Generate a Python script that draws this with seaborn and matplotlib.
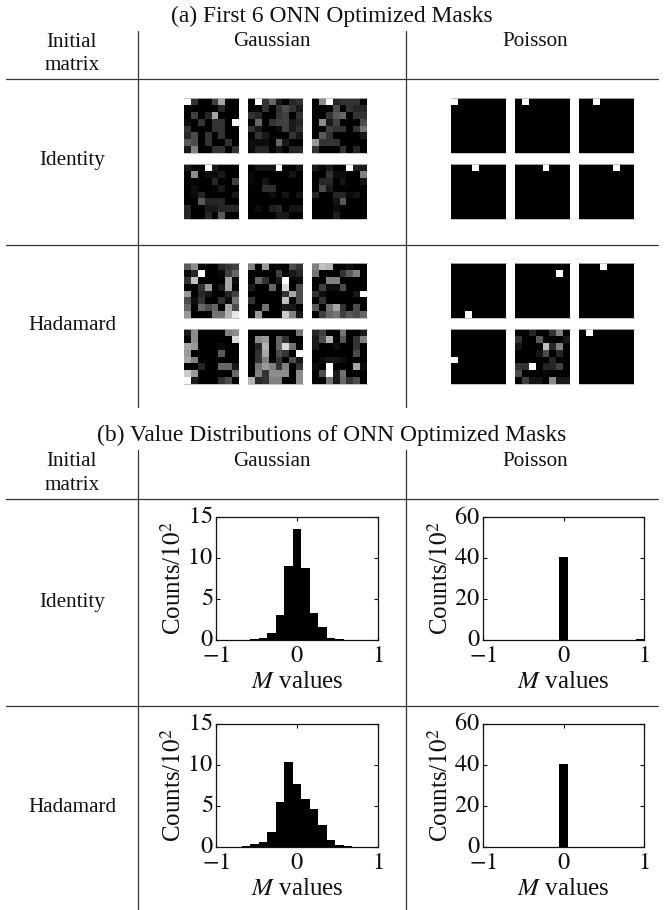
"""ONN optimized masks and their value distributions"""
import matplotlib
matplotlib.use("Agg")
import matplotlib.pyplot as plt
from matplotlib.transforms import ScaledTranslation
import numpy as np
import seaborn as sns

sns.set_theme(style="ticks")
plt.rcParams["font.family"] = ["Liberation Serif", "DejaVu Serif"]
plt.rcParams["mathtext.fontset"] = "stix"

W, H = 664, 910

gauss_identity = [
    [[1, .2, 0, 0, .25, .65, 0, 0], [0, 0, 0, 0, 0, .15, 0, 0], [0, .25, 0, .15, .65, 0, 0, 0],
     [.05, 0, .2, 0, .2, .2, 0, .95], [.2, 0, 0, 0, .2, .2, 0, 0], [.15, .3, 0, .2, 0, .2, 0, 0],
     [.35, .3, 0, .2, 0, 0, .2, 0], [.1, .5, 0, 0, .2, .2, 0, .2]],
    [[0, 1, .2, .4, .1, 0, .15, .2], [0, 0, .2, 0, .2, .3, .2, .1], [.2, .15, 0, 0, .2, .25, 0, .2],
     [0, .4, 0, .2, .25, .25, .1, .15], [.2, .1, 0, 0, .05, .25, .1, .2], [0, .2, .1, 0, 0, 0, .2, .1],
     [.05, .05, .05, 0, .4, .1, 0, 0], [.05, .15, .15, 0, .1, 0, .15, .15]],
    [[0, .55, 1, .15, .2, .2, .2, 0], [0, 0, 0, .3, 0, .2, .15, .15], [0, 0, .2, .35, .4, 0, .2, .2],
     [0, .55, .1, .25, 0, 0, 0, .3], [0, 0, .25, .2, .2, 0, .2, .45], [0, .35, .2, 0, 0, 0, 0, .1],
     [.6, .2, .2, .2, 0, 0, 0, 0], [.2, 0, 0, 0, .2, 0, .15, 0]],
    [[.1, 0, 0, 1, .1, 0, 0, 0], [0, .55, 0, .05, .05, .1, 0, 0], [0, 0, 0, 0, .15, 0, 0, .25],
     [0, .05, 0, 0, .03, .1, 0, 0], [0, .05, .15, 0, 0, 0, 0, .1], [0, 0, .35, .15, .15, .15, 0, 0],
     [.15, 0, 0, .1, .1, .15, .15, .15], [.15, 0, 0, .15, 0, .35, 0, 0]],
    [[0, .08, .08, .08, 1, 0, 0, .08], [.03, 0, 0, 0, 0, 0, .08, 0], [.03, 0, .08, 0, 0, 0, 0, 0],
     [0, 0, .18, .18, 0, 0, 0, 0], [0, 0, 0, .05, 0, .08, 0, .08], [0, 0, 0, 0, 0, 0, 0, 0],
     [0, .05, 0, .12, .15, 0, .08, .08], [0, 0, 0, 0, .1, .1, 0, 0]],
    [[.1, .03, .1, 0, 0, 1, .12, .1], [0, 0, .2, .05, .05, 0, 0, .5], [0, .15, .15, 0, .08, 0, 0, .08],
     [0, .3, .1, 0, 0, 0, 0, 0], [.15, 0, 0, .15, .15, .05, .08, 0], [0, 0, 0, .08, .35, 0, 0, 0],
     [0, 0, 0, .05, 0, 0, 0, 0], [0, 0, 0, .12, 0, 0, 0, 0]],
]
gauss_hadamard = [
    [[.35, .55, 0, 0, 0, .15, .2, .25], [.05, .15, 1, 0, 0, .03, .25, .4], [.2, .75, 0, 0, 0, 0, .65, .05],
     [0, 0, .2, .6, 0, .1, .65, 0], [.6, 0, .15, .1, 0, 0, .15, .25], [.3, .05, .2, 0, 0, .2, .05, .45],
     [.4, 0, .4, .3, .4, 0, .65, .3], [.6, 0, 0, 0, .45, .45, .7, .9]],
    [[.5, 0, .6, 0, 0, 0, .3, .2], [0, 0, 0, 0, .25, 0, .1, .15], [0, .4, .2, 0, .1, 1, 0, .05],
     [.1, 0, 0, .4, 0, .85, 0, .3], [0, 0, 0, 0, 0, .2, .65, .3], [.2, 0, 0, 0, 0, .75, 0, .3],
     [0, 0, .45, 0, 0, .1, .1, 0], [0, .6, 0, 0, 0, .8, .5, .1]],
    [[.5, .75, .7, 0, 0, .05, 0, 0], [.45, 0, 0, 0, .2, .35, .5, 0], [0, 0, .5, .5, 0, 0, 0, 0],
     [0, .25, .05, .05, .3, 0, 0, 0], [.2, .05, 0, 0, 0, 0, .1, 1], [0, .2, 0, 0, 0, 0, 0, 0],
     [.35, 0, .45, .65, .2, 0, .3, 0], [0, .25, .4, .45, .25, .35, .3, .4]],
    [[.1, .55, 0, 0, 0, 0, .5, .55], [0, .55, 0, 0, 0, 0, 0, .85], [.65, .6, 0, 0, 0, .05, 0, 0],
     [.6, 0, 0, 0, 0, .35, 0, 0], [.65, .5, 0, 0, 0, 0, 0, 0], [0, 0, .15, 0, 0, .4, .4, .1],
     [.8, .6, 0, 0, 0, 0, 0, .4], [1, .1, 0, 0, 0, .2, .3, 0]],
    [[0, 0, 0, 0, 0, 0, 0, .45], [0, .55, .6, 0, .4, .2, 0, 0], [0, .15, .7, 0, .4, .85, .45, 0],
     [0, .2, .65, 0, .3, .2, 0, 1], [0, .2, .5, 0, .2, 0, .3, .1], [0, .45, .6, .5, .2, .5, 0, .2],
     [0, .5, .2, .55, .55, .55, 0, .55], [.7, .15, .2, .5, .5, 0, 0, .55]],
    [[.15, .25, 0, 0, .45, 0, 0, .1], [.1, .3, .7, 0, .35, 0, .2, .5], [.1, 0, 0, .05, 0, 0, .2, 0],
     [0, 0, 0, 0, 0, 0, .3, 0], [0, .05, .1, .1, .05, 0, 0, 0], [.05, 0, 1, 0, 0, 0, .65, .05],
     [0, .3, 1, .1, .45, 0, 0, 0], [0, 0, .45, .1, .4, .2, .3, 0]],
]
zero_row = [0, 0, 0, 0, 0, 0, 0, 0]


def one_hot(row, col):
    m = [list(zero_row) for _ in range(8)]
    m[row][col] = 1
    return m


poisson_identity = [one_hot(0, 0), one_hot(0, 1), one_hot(0, 2), one_hot(0, 3), one_hot(0, 4), one_hot(0, 5)]
poisson_hadamard = [
    one_hot(7, 2), one_hot(1, 6), one_hot(0, 3), one_hot(4, 0),
    [[0, 0, .15, 0, 0, .2, .5, 0], [.2, 0, 0, .35, 0, 0, 0, .1], [.08, 0, 0, 0, .75, .15, .5, 0],
     [0, 0, 0, .08, .3, 0, .15, 0], [0, 0, 0, 0, 0, .15, 0, 0], [.2, .2, 1, 0, .15, .15, .25, 0],
     [.3, 0, 0, 0, .03, 0, 0, 0], [0, .25, .08, .08, 0, .55, .1, .1]],
    one_hot(0, 1),
]

bin_centers = [k * 2 / 19 for k in range(-9, 10)]
bin_edges = [-1 + k * 2 / 19 for k in range(20)]
hist_gauss_identity = [.01, .01, .02, .05, .1, .25, .8, 3.1, 9.0, 13.5, 8.8, 3.3, 1.6, .3, .15, .05, .02, .01, .01]
hist_gauss_hadamard = [.01, .02, .05, .15, .35, .65, 1.8, 5.5, 10.35, 7.7, 5.9, 4.6, 2.7, .85, .25, .1, .05, .02, .01]
hist_poisson_identity = [0, 0, 0, 0, 0, 0, 0, 0, 0, 40.5, 0, 0, 0, 0, 0, 0, 0, 0, .5]
hist_poisson_hadamard = [0, 0, 0, 0, 0, 0, 0, 0, .05, 40.5, .05, .05, 0, 0, 0, 0, 0, 0, .05]
gauss_yticks = [0, 5, 10, 15]
poisson_yticks = [0, 20, 40, 60]


fig = plt.figure(figsize=(W / 100, H / 100), dpi=100)


def axes_px(x0, y0, x1, y1):
    return fig.add_axes([x0 / W, 1 - y1 / H, (x1 - x0) / W, (y1 - y0) / H])


# page axes for the table rules and text, in pixels
page = fig.add_axes([0, 0, 1, 1])
page.set_xlim(0, W)
page.set_ylim(H, 0)
page.axis("off")
for y in [79, 244.5, 498.7, 705.6]:
    page.plot([6, 658], [y, y], color="#333333", lw=0.9)
for x in [138.3, 406]:
    page.plot([x, x], [31, 407], color="#333333", lw=0.9)
    page.plot([x, x], [450, 910], color="#333333", lw=0.9)


def label(x, y, s, size=15.2):
    page.text(x, y, s, ha="center", va="center", fontsize=size, color="#111111")


label(332, 16, "(a) First 6 ONN Optimized Masks", 16.9)
label(332, 435, "(b) Value Distributions of ONN Optimized Masks", 16.9)
for top in [0, 419]:
    label(72, 42.5 + top, "Initial")
    label(72, 66 + top, "matrix")
    label(272, 42 + top, "Gaussian")
    label(535, 42 + top, "Poisson")
label(72, 160, "Identity")
label(72, 325, "Hadamard")
label(72, 602, "Identity")
label(72, 808, "Hadamard")


def draw_masks(masks, xs, ys):
    for i, mask in enumerate(masks):
        x0 = xs[i % 3]
        y0 = ys[i // 3]
        ax = axes_px(x0, y0, x0 + 55, y0 + 55)
        sns.heatmap(np.array(mask), ax=ax, cmap="gray", vmin=0, vmax=1, cbar=False,
                    xticklabels=False, yticklabels=False, square=False)
        for side in ["top", "bottom"]:
            ax.spines[side].set_visible(True)
            ax.spines[side].set_color("#bbbbbb")
            ax.spines[side].set_linewidth(0.6)


gauss_x = [184, 248, 312]
poisson_x = [451, 515, 579]
draw_masks(gauss_identity, gauss_x, [98, 164])
draw_masks(poisson_identity, poisson_x, [98, 164])
draw_masks(gauss_hadamard, gauss_x, [263, 329])
draw_masks(poisson_hadamard, poisson_x, [263, 329])


def draw_hist(counts, yticks, box):
    ax = axes_px(*box)
    sns.histplot(x=bin_centers, weights=counts, bins=bin_edges, ax=ax, color="black",
                 alpha=1, edgecolor="black", linewidth=0)
    ax.set_xlim(-1, 1)
    ax.set_ylim(yticks[0], yticks[-1])
    ax.set_xticks([-1, 0, 1], ["$-1$", "$0$", "$1$"])
    ax.set_yticks(yticks, [f"${t}$" for t in yticks])
    ax.tick_params(direction="in", length=3, width=0.8, top=True, right=True,
                   labelsize=17.5, color="#111111", labelcolor="#111111")
    ax.tick_params(axis="x", pad=4)
    ax.tick_params(axis="y", pad=2)
    # y labels sit a little above their ticks
    shift = ScaledTranslation(0, 2 / 100, fig.dpi_scale_trans)
    for t in ax.get_yticklabels():
        t.set_transform(t.get_transform() + shift)
    for spine in ax.spines.values():
        spine.set_linewidth(0.9)
        spine.set_color("#111111")
    ax.set_xlabel("$M$ values", fontsize=18, labelpad=3, color="#111111")
    ax.set_ylabel("Counts/$10^2$", fontsize=18, labelpad=1, color="#111111")


draw_hist(hist_gauss_identity, gauss_yticks, (216, 517, 378, 640))
draw_hist(hist_poisson_identity, poisson_yticks, (483, 517, 644, 640))
draw_hist(hist_gauss_hadamard, gauss_yticks, (216, 724, 378, 847))
draw_hist(hist_poisson_hadamard, poisson_yticks, (483, 724, 644, 847))

fig.savefig("out.png", dpi=100)
